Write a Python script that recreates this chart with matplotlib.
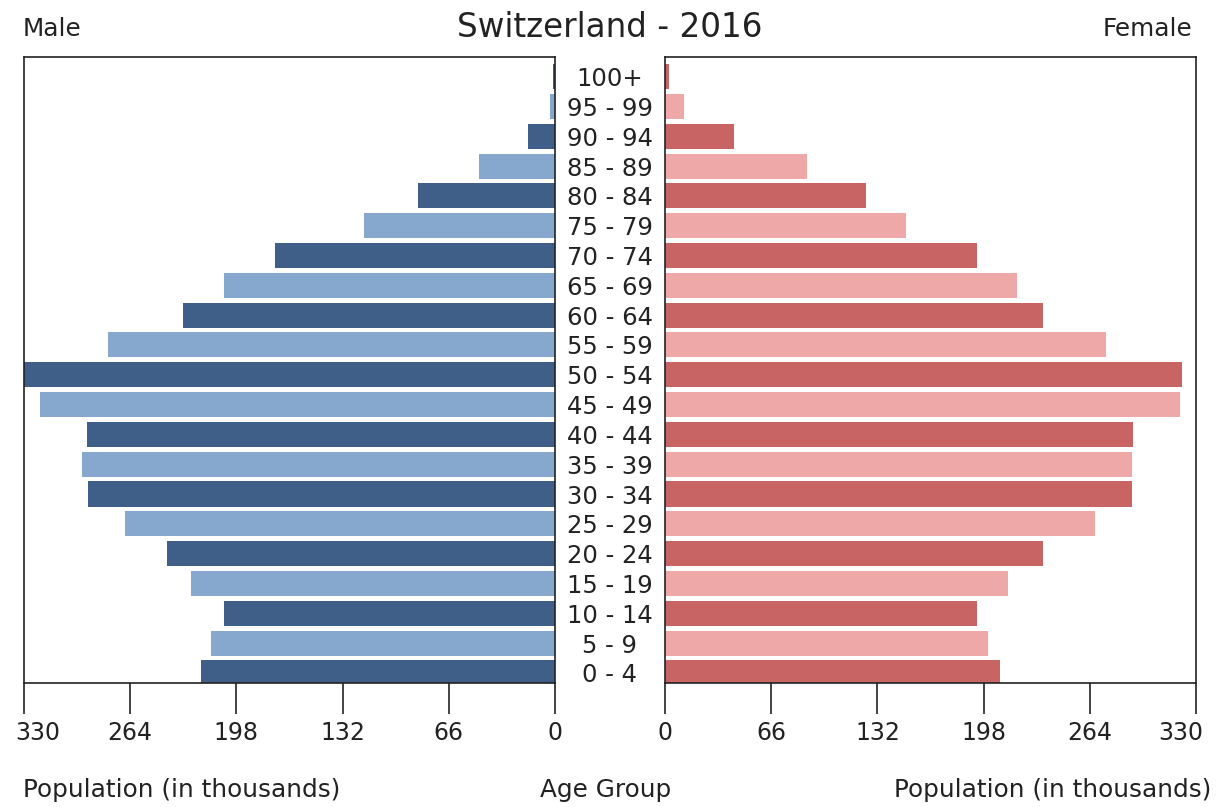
import numpy as np
import matplotlib
matplotlib.use('Agg')
import matplotlib.pyplot as plt

# Gruppi di eta (dal basso verso l'alto)
gruppi = ['0 - 4', '5 - 9', '10 - 14', '15 - 19', '20 - 24', '25 - 29', '30 - 34',
          '35 - 39', '40 - 44', '45 - 49', '50 - 54', '55 - 59', '60 - 64', '65 - 69',
          '70 - 74', '75 - 79', '80 - 84', '85 - 89', '90 - 94', '95 - 99', '100+']

# Popolazione in migliaia
maschi = [220, 214, 206, 226, 241, 267, 290, 294, 291, 320, 330, 278, 231, 206,
          174, 119, 85, 47, 17, 3, 1]
femmine = [208, 201, 194, 213, 235, 267, 290, 290, 291, 320, 321, 274, 235, 219,
           194, 150, 125, 88, 43, 12, 2.5]

tick_val = [0, 66, 132, 198, 264, 330]

col_m = ['#3f5f88', '#86a8cf']
col_f = ['#c96464', '#efa8a8']
col_txt = '#222222'

y = np.arange(len(gruppi))

fig = plt.figure(figsize=(12.22, 8.07), dpi=100)
ax1 = fig.add_axes([24/1222, 1-683/807, (555-24)/1222, (683-57)/807])
ax2 = fig.add_axes([665/1222, 1-683/807, (1196-665)/1222, (683-57)/807])

ax1.barh(y, maschi, height=0.84, color=[col_m[i % 2] for i in y])
ax2.barh(y, femmine, height=0.84, color=[col_f[i % 2] for i in y])

ax1.set_xlim(330, 0)
ax2.set_xlim(0, 330)
for ax in (ax1, ax2):
    ax.set_ylim(-0.34, len(gruppi) - 0.34)
    ax.set_yticks([])
    ax.set_xticks(tick_val)
    # l'etichetta 330 viene spostata verso l'interno a mano
    ax.set_xticklabels([str(t) for t in tick_val[:-1]] + [''])
    ax.tick_params(axis='x', direction='out', length=22, width=1.2,
                   labelsize=17, pad=5, colors=col_txt)
    for s in ax.spines.values():
        s.set_linewidth(1.2)
        s.set_color(col_txt)

ax1.annotate('330', xy=(330, 0), xycoords=('data', 'axes fraction'),
             xytext=(10, -27), textcoords='offset points', ha='center', va='top',
             fontsize=17, color=col_txt)
ax2.annotate('330', xy=(330, 0), xycoords=('data', 'axes fraction'),
             xytext=(-11, -27), textcoords='offset points', ha='center', va='top',
             fontsize=17, color=col_txt)

for i, g in enumerate(gruppi):
    fig.text(610/1222, ax1.transData.transform((0, i))[1]/807, g,
             ha='center', va='center_baseline', fontsize=17.5, color=col_txt)

fig.text(610/1222, 1-37/807, 'Switzerland - 2016', ha='center', va='baseline',
         fontsize=23.5, color=col_txt)
fig.text(23/1222, 1-36/807, 'Male', ha='left', va='baseline', fontsize=17.8, color=col_txt)
fig.text(1192/1222, 1-36/807, 'Female', ha='right', va='baseline', fontsize=17.8, color=col_txt)
fig.text(23/1222, 1-797/807, 'Population (in thousands)', ha='left', va='baseline',
         fontsize=17.8, color=col_txt)
fig.text(1211/1222, 1-797/807, 'Population (in thousands)', ha='right', va='baseline',
         fontsize=17.8, color=col_txt)
fig.text(606/1222, 1-797/807, 'Age Group', ha='center', va='baseline',
         fontsize=17.8, color=col_txt)

fig.savefig('out.png', dpi=100)
